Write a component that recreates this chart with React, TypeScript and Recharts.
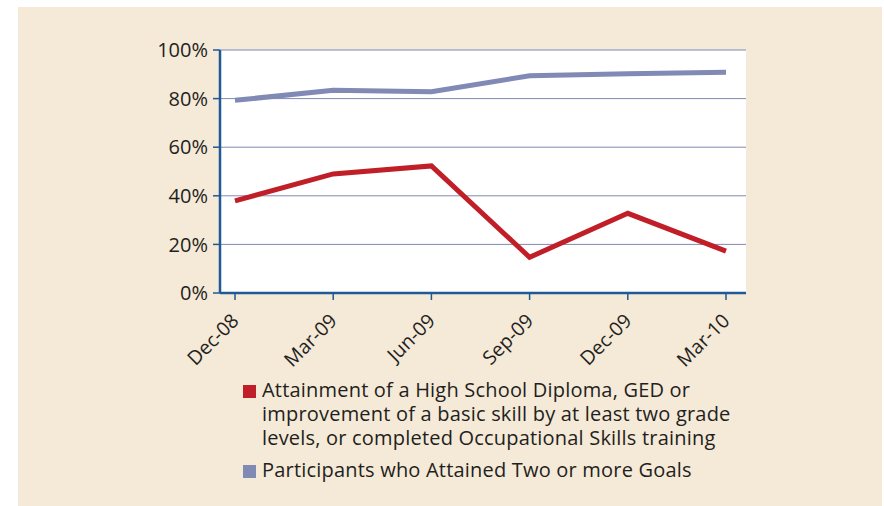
import React from 'react';
import {
    LineChart,
    Line,
    XAxis,
    YAxis,
    CartesianGrid,
} from 'recharts';

const months = ['Dec-08', 'Mar-09', 'Jun-09', 'Sep-09', 'Dec-09', 'Mar-10'];
const attainment = [37.9, 49.0, 52.3, 14.7, 32.8, 17.2];
const twoOrMoreGoals = [79.3, 83.4, 82.8, 89.4, 90.2, 90.8];
const yTicks = [0, 20, 40, 60, 80, 100];

const attainmentLines = [
    'Attainment of a High School Diploma, GED or',
    'improvement of a basic skill by at least two grade',
    'levels, or completed Occupational Skills training',
];
const goalsLabel = 'Participants who Attained Two or more Goals';

const data = months.map((m, i) => ({
    month: m,
    attainment: attainment[i],
    goals: twoOrMoreGoals[i],
}));

const FONT = '"Open Sans", Lato, sans-serif';
const BORDER = '#1f5a96';
const RED = '#c01f28';
const BLUE = '#8189b5';
const TEXT = '#231f20';

const XTick = (props: any) => {
    const { x, y, payload } = props;
    return (
        <text
            x={x + 5}
            y={y + 20}
            transform={`rotate(-45, ${x + 5}, ${y + 20})`}
            textAnchor="end"
            fontSize={19.5}
            fontFamily={FONT}
            fill={TEXT}
        >
            {payload.value}
        </text>
    );
};

const LegendBox = () => (
    <div
        style={{
            position: 'absolute',
            left: 225,
            top: 371,
            width: 630,
            fontFamily: FONT,
            fontSize: 20,
            letterSpacing: 0.2,
            color: TEXT,
            lineHeight: '24px',
        }}
    >
        <div style={{ display: 'flex' }}>
            <span style={{ width: 13, height: 13, background: RED, marginTop: 7, marginRight: 6, flex: 'none' }} />
            <div>
                {attainmentLines.map((t) => (
                    <div key={t}>{t}</div>
                ))}
            </div>
        </div>
        <div style={{ display: 'flex', marginTop: 8 }}>
            <span style={{ width: 13, height: 13, background: BLUE, marginTop: 7, marginRight: 6, flex: 'none' }} />
            <div>{goalsLabel}</div>
        </div>
    </div>
);

const App: React.FC = () => {
    return (
        <div
            style={{
                position: 'absolute',
                left: 18,
                top: 7,
                width: 864,
                height: 499,
                background: '#f5e9d8',
            }}
        >
            <LineChart
                width={864}
                height={499}
                data={data}
                margin={{ top: 43, right: 136, left: 0, bottom: 153 }}
            >
                <CartesianGrid vertical={false} stroke={BLUE} strokeWidth={1} fill="#fff" />
                <XAxis
                    dataKey="month"
                    padding={{ left: 15, right: 20 }}
                    axisLine={{ stroke: BORDER, strokeWidth: 2.5 }}
                    tickLine={{ stroke: BORDER, strokeWidth: 1.5 }}
                    tickSize={7}
                    height={60}
                    tick={<XTick />}
                    interval={0}
                />
                <XAxis
                    xAxisId="top"
                    orientation="top"
                    dataKey="month"
                    height={0}
                    tick={false}
                    tickLine={false}
                    axisLine={{ stroke: BORDER, strokeWidth: 2.5 }}
                />
                <YAxis
                    domain={[0, 100]}
                    ticks={yTicks}
                    width={202}
                    tickFormatter={(v) => `${v}%`}
                    axisLine={{ stroke: BORDER, strokeWidth: 2.5 }}
                    tickLine={{ stroke: BORDER, strokeWidth: 1.5 }}
                    tickSize={7}
                    tickMargin={5}
                    tick={{ fontSize: 20, fontFamily: FONT, fill: TEXT }}
                />
                <YAxis
                    yAxisId="right"
                    orientation="right"
                    domain={[0, 100]}
                    width={0}
                    tick={false}
                    tickLine={false}
                    axisLine={{ stroke: BORDER, strokeWidth: 2.5 }}
                />
                <Line
                    type="linear"
                    dataKey="goals"
                    stroke={BLUE}
                    strokeWidth={5}
                    dot={false}
                    activeDot={false}
                    isAnimationActive={false}
                />
                <Line
                    type="linear"
                    dataKey="attainment"
                    stroke={RED}
                    strokeWidth={5}
                    dot={false}
                    activeDot={false}
                    isAnimationActive={false}
                />
            </LineChart>
            <LegendBox />
        </div>
    );
};

export default App;
